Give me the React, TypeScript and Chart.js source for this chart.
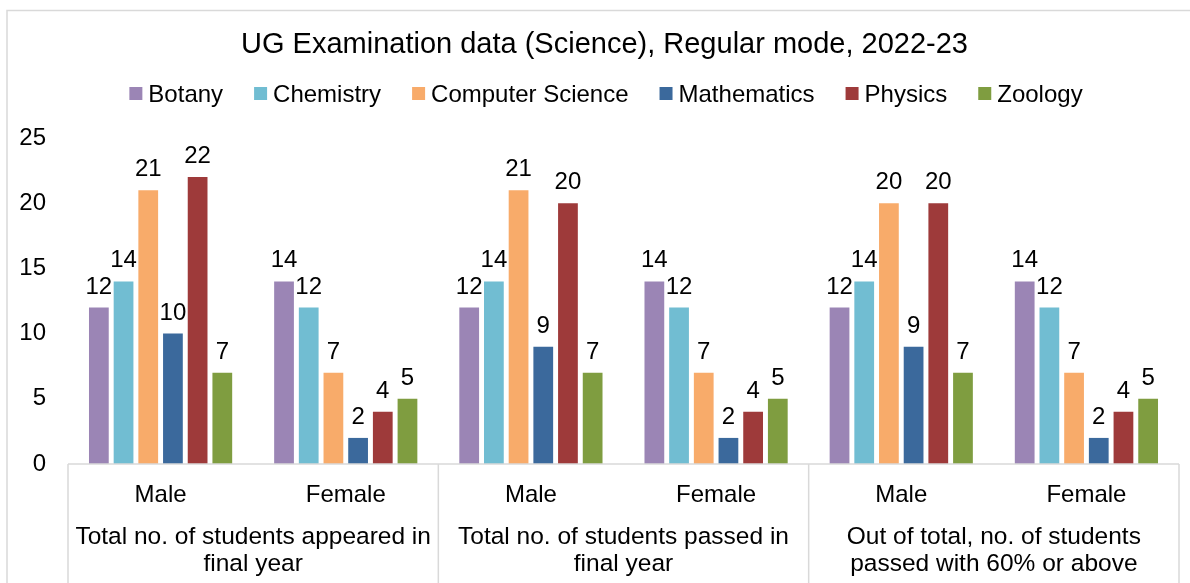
import React, { useEffect, useRef } from "react";
import { Chart, registerables } from "chart.js";

Chart.register(...registerables);

const TITLE = "UG Examination data (Science), Regular mode, 2022-23";
const categories = ["Male", "Female", "Male", "Female", "Male", "Female"];
const groupLabels: string[][] = [
  ["Total no. of students appeared in", "final year"],
  ["Total no. of students passed in", "final year"],
  ["Out of total, no. of students", "passed with 60% or above"],
];
const seriesNames = ["Botany", "Chemistry", "Computer Science", "Mathematics", "Physics", "Zoology"];
const botany = [12, 14, 12, 14, 12, 14];
const chemistry = [14, 12, 14, 12, 14, 12];
const computerScience = [21, 7, 21, 7, 20, 7];
const mathematics = [10, 2, 9, 2, 9, 2];
const physics = [22, 4, 20, 4, 20, 4];
const zoology = [7, 5, 7, 5, 7, 5];
const seriesValues = [botany, chemistry, computerScience, mathematics, physics, zoology];
const seriesColors = ["#9b85b5", "#71bdd2", "#f8ab6a", "#3b699c", "#9e3a3a", "#7f9d40"];
const yTicks = [0, 5, 10, 15, 20, 25];

const FONT = '"Liberation Sans", Arial, sans-serif';
const GRID = "#d9d9d9";

const decorPlugin = {
  id: "decor",
  beforeDraw(chart: any) {
    const { ctx, width, height } = chart;
    ctx.save();
    ctx.fillStyle = "#ffffff";
    ctx.fillRect(0, 0, width, height);
    ctx.strokeStyle = GRID;
    ctx.lineWidth = 1.5;
    ctx.strokeRect(7, 10.5, width + 50, height + 50);
    ctx.restore();
  },
  afterDraw(chart: any) {
    const { ctx, chartArea, height } = chart;
    const xs = chart.scales.x;
    ctx.save();
    // title
    ctx.fillStyle = "#000";
    ctx.textAlign = "center";
    ctx.textBaseline = "alphabetic";
    ctx.font = `29px ${FONT}`;
    ctx.fillText(TITLE, 604.5, 53);
    // legend
    ctx.font = `24px ${FONT}`;
    const box = 13;
    const gapBoxText = 6;
    const gapItems = 31;
    const widths = seriesNames.map((n) => box + gapBoxText + ctx.measureText(n).width);
    const total = widths.reduce((a, b) => a + b, 0) + gapItems * (seriesNames.length - 1);
    let x = 606 - total / 2;
    ctx.textAlign = "left";
    seriesNames.forEach((n, i) => {
      ctx.fillStyle = seriesColors[i];
      ctx.fillRect(x, 87, box, box);
      ctx.fillStyle = "#000";
      ctx.fillText(n, x + box + gapBoxText, 102);
      x += widths[i] + gapItems;
    });
    // axis line and separators
    ctx.strokeStyle = GRID;
    ctx.lineWidth = 1.5;
    ctx.beginPath();
    ctx.moveTo(chartArea.left, chartArea.bottom);
    ctx.lineTo(chartArea.right, chartArea.bottom);
    const n = groupLabels.length;
    const per = categories.length / n;
    const bounds: number[] = [];
    for (let g = 0; g <= n; g++) {
      let bx;
      if (g === 0) bx = chartArea.left;
      else if (g === n) bx = chartArea.right;
      else bx = (xs.getPixelForValue(g * per - 1) + xs.getPixelForValue(g * per)) / 2;
      bounds.push(bx);
      ctx.moveTo(bx, chartArea.bottom);
      ctx.lineTo(bx, height);
    }
    ctx.stroke();
    // group labels
    ctx.fillStyle = "#000";
    ctx.textAlign = "center";
    ctx.font = `24.5px ${FONT}`;
    groupLabels.forEach((lines, g) => {
      const cx = (bounds[g] + bounds[g + 1]) / 2;
      lines.forEach((line, li) => {
        ctx.fillText(line, cx, 544 + li * 27);
      });
    });
    ctx.restore();
  },
  afterDatasetsDraw(chart: any) {
    const { ctx } = chart;
    ctx.save();
    ctx.fillStyle = "#000";
    ctx.font = `24px ${FONT}`;
    ctx.textAlign = "center";
    ctx.textBaseline = "alphabetic";
    chart.data.datasets.forEach((ds: any, di: number) => {
      const meta = chart.getDatasetMeta(di);
      meta.data.forEach((bar: any, i: number) => {
        ctx.fillText(String(ds.data[i]), bar.x, bar.y - 14);
      });
    });
    ctx.restore();
  },
};

export default function App() {
  const ref = useRef<HTMLCanvasElement | null>(null);
  useEffect(() => {
    if (!ref.current) return;
    const chart = new Chart(ref.current, {
      type: "bar",
      data: {
        labels: categories,
        datasets: seriesNames.map((name, i) => ({
          label: name,
          data: seriesValues[i],
          backgroundColor: seriesColors[i],
          borderWidth: 0,
          categoryPercentage: 0.8,
          barPercentage: 0.8,
        })),
      },
      options: {
        animation: false,
        responsive: false,
        layout: { padding: { top: 138, right: 11, bottom: 0, left: 0 } },
        plugins: {
          legend: { display: false },
          title: { display: false },
          tooltip: { enabled: false },
        },
        scales: {
          x: {
            grid: { display: false, drawTicks: false },
            border: { display: false },
            ticks: {
              padding: 17,
              color: "#000",
              font: { family: FONT, size: 24 },
              maxRotation: 0,
              autoSkip: false,
            },
            afterFit(scale: any) {
              scale.height = 119;
            },
          },
          y: {
            min: 0,
            max: 25,
            grid: { display: false, drawTicks: false },
            border: { display: false },
            afterBuildTicks(scale: any) {
              scale.ticks = yTicks.map((v) => ({ value: v }));
            },
            ticks: {
              padding: 22,
              color: "#000",
              font: { family: FONT, size: 24 },
            },
            afterFit(scale: any) {
              scale.width = 68;
            },
          },
        },
      },
      plugins: [decorPlugin],
    });
    return () => chart.destroy();
  }, []);
  return (
    <div style={{ position: "absolute", left: 0, top: 0, width: 1190, height: 583 }}>
      <canvas ref={ref} width={1190} height={583} style={{ display: "block" }} />
    </div>
  );
}
